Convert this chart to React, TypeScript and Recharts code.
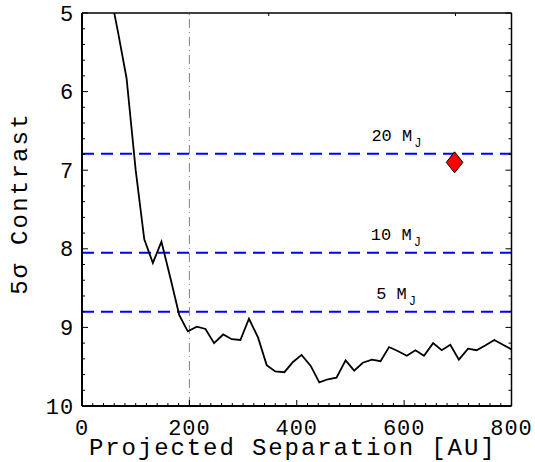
import React from "react";
import {
  ComposedChart,
  Line,
  Scatter,
  XAxis,
  YAxis,
  ReferenceLine,
  ReferenceDot,
} from "recharts";

const FONT = "'Liberation Mono', 'DejaVu Sans Mono', monospace";

// contrast curve
const sepAU = [
  50, 67, 83, 100, 116, 132, 148, 165, 181, 197, 214, 230, 246, 263, 279, 295,
  311, 328, 344, 360, 377, 393, 409, 426, 442, 458, 474, 491, 507, 523, 540,
  556, 572, 588, 605, 621, 637, 654, 670, 686, 702, 719, 735, 751, 768, 784, 800,
];
const contrast = [
  4.65, 5.24, 5.83, 7.0, 7.88, 8.18, 7.91, 8.38, 8.84, 9.05, 8.99, 9.02, 9.2,
  9.09, 9.15, 9.16, 8.89, 9.13, 9.48, 9.56, 9.57, 9.44, 9.35, 9.49, 9.7, 9.66,
  9.64, 9.42, 9.55, 9.45, 9.41, 9.43, 9.25, 9.3, 9.36, 9.29, 9.36, 9.2, 9.29,
  9.22, 9.41, 9.27, 9.29, 9.23, 9.16, 9.22, 9.28,
];

// mass limits
const massNames = ["20", "10", "5"];
const massLimits = [6.79, 8.05, 8.8];
const massLabelX = [539, 538, 548];

// companion
const companionX = [694];
const companionY = [6.9];

const xMajor = [0, 200, 400, 600, 800];
const yMajor = [5, 6, 7, 8, 9, 10];
const xTicks = Array.from({ length: 41 }, (_, i) => i * 20);
const yTicks = Array.from({ length: 26 }, (_, i) => Math.round((5 + i * 0.2) * 10) / 10);

const curveData = sepAU.map((x, i) => ({ x, c: contrast[i] }));
const companionData = companionX.map((x, i) => ({ x, c: companionY[i] }));

function BottomTick({ x, y, payload }: any) {
  const major = xMajor.includes(payload.value);
  return (
    <g>
      <line x1={x} x2={x} y1={y} y2={y - (major ? 6 : 3)} stroke="#000" strokeWidth={1} />
      {major && (
        <text x={x} y={y + 29} textAnchor="middle" fontSize={22} letterSpacing={0.9}
          fontFamily={FONT} fill="#000">
          {payload.value}
        </text>
      )}
    </g>
  );
}

function TopTick({ x, y, payload }: any) {
  const major = xMajor.includes(payload.value);
  return <line x1={x} x2={x} y1={y} y2={y + (major ? 6 : 3)} stroke="#000" strokeWidth={1} />;
}

function LeftTick({ x, y, payload }: any) {
  const major = yMajor.includes(payload.value);
  return (
    <g>
      <line x1={x} x2={x + (major ? 6 : 3)} y1={y} y2={y} stroke="#000" strokeWidth={1} />
      {major && (
        <text x={x - 8} y={y + 7.5} textAnchor="end" fontSize={22} letterSpacing={0.9}
          fontFamily={FONT} fill="#000">
          {payload.value}
        </text>
      )}
    </g>
  );
}

function RightTick({ x, y, payload }: any) {
  const major = yMajor.includes(payload.value);
  return <line x1={x} x2={x - (major ? 6 : 3)} y1={y} y2={y} stroke="#000" strokeWidth={1} />;
}

function Diamond({ cx, cy }: any) {
  return (
    <polygon
      points={`${cx},${cy - 10.5} ${cx + 8.3},${cy} ${cx},${cy + 10.5} ${cx - 8.3},${cy}`}
      fill="#ff0000"
      stroke="#000"
      strokeWidth={1}
    />
  );
}

export default function App() {
  return (
    <div style={{ position: "absolute", left: 0, top: 0 }}>
      <ComposedChart
        width={535}
        height={462}
        data={curveData}
        margin={{ top: 12, right: 22.5, bottom: 0, left: 0 }}
      >
        <XAxis
          xAxisId="b"
          dataKey="x"
          type="number"
          domain={[0, 800]}
          ticks={xTicks}
          interval={0}
          allowDataOverflow
          height={56}
          tickSize={0}
          tickMargin={0}
          tickLine={false}
          tick={<BottomTick />}
          axisLine={{ stroke: "#000", strokeWidth: 2 }}
          label={(p: any) => {
            const vb = p.viewBox;
            return (
              <text x={vb.x + vb.width / 2 - 4} y={vb.y + 49} textAnchor="middle"
                fontSize={24} letterSpacing={1.9} fontFamily={FONT} fill="#000">
                Projected Separation [AU]
              </text>
            );
          }}
        />
        <XAxis
          xAxisId="t"
          orientation="top"
          type="number"
          domain={[0, 800]}
          ticks={xTicks}
          interval={0}
          allowDataOverflow
          height={1}
          tickSize={0}
          tickMargin={0}
          tickLine={false}
          tick={<TopTick />}
          axisLine={{ stroke: "#000", strokeWidth: 1.5 }}
        />
        <YAxis
          yAxisId="l"
          type="number"
          domain={[5, 10]}
          reversed
          ticks={yTicks}
          interval={0}
          allowDataOverflow
          width={82}
          tickSize={0}
          tickMargin={0}
          tickLine={false}
          tick={<LeftTick />}
          axisLine={{ stroke: "#000", strokeWidth: 2 }}
          label={(p: any) => {
            const vb = p.viewBox;
            const cx = 27;
            const cy = vb.y + vb.height / 2 - 6;
            return (
              <text x={cx} y={cy} transform={`rotate(-90 ${cx} ${cy})`} textAnchor="middle"
                fontSize={24} letterSpacing={2.2} fontFamily={FONT} fill="#000">
                5σ Contrast
              </text>
            );
          }}
        />
        <YAxis
          yAxisId="r"
          orientation="right"
          type="number"
          domain={[5, 10]}
          reversed
          ticks={yTicks}
          interval={0}
          allowDataOverflow
          width={1}
          tickSize={0}
          tickMargin={0}
          tickLine={false}
          tick={<RightTick />}
          axisLine={{ stroke: "#000", strokeWidth: 1.5 }}
        />

        <ReferenceLine xAxisId="b" yAxisId="l" x={200} stroke="#808080" strokeWidth={1}
          strokeDasharray="9 4 1 4" />

        {massLimits.map((v, i) => (
          <ReferenceLine key={"m" + i} xAxisId="b" yAxisId="l" y={v} stroke="#0000ff"
            strokeWidth={2} strokeDasharray="12 7" />
        ))}

        {massLimits.map((v, i) => (
          <ReferenceDot
            key={"t" + i}
            xAxisId="b"
            yAxisId="l"
            x={massLabelX[i]}
            y={v}
            r={0}
            shape={(p: any) => (
              <text x={p.cx} y={p.cy - 13} fontSize={17} fontFamily={FONT} fill="#000">
                {massNames[i]} M
                <tspan fontSize={12} dx={2} dy={6}>J</tspan>
              </text>
            )}
          />
        ))}

        <Line
          xAxisId="b"
          yAxisId="l"
          dataKey="c"
          type="linear"
          stroke="#000"
          strokeWidth={1.8}
          dot={false}
          activeDot={false}
          isAnimationActive={false}
        />

        <Scatter
          xAxisId="b"
          yAxisId="l"
          data={companionData}
          dataKey="c"
          shape={<Diamond />}
          isAnimationActive={false}
        />
      </ComposedChart>
    </div>
  );
}
